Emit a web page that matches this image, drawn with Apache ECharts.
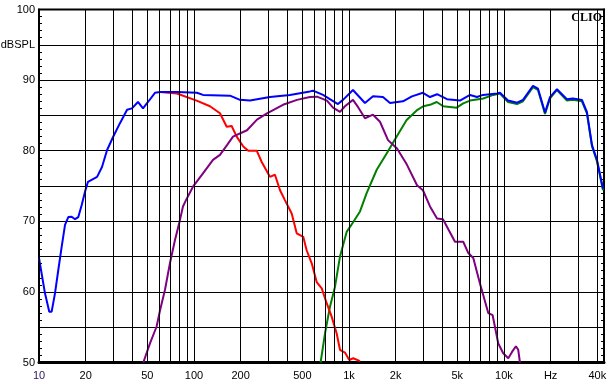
<!DOCTYPE html>
<html>
<head>
<meta charset="utf-8">
<script src="https://cdn.jsdelivr.net/npm/echarts@6/dist/echarts.min.js"></script>
<style>
html,body{margin:0;padding:0;background:#fff;}
#chart{width:613px;height:392px;}
</style>
</head>
<body>
<div id="chart"></div>
<script>
// ---- data (frequency in Hz, level in dB SPL) ----
var blueFreq = [10,10.93,11.65,12.07,12.68,13.32,14.01,14.72,15.45,16.25,17.07,17.93,18.86,19.81,20.7,23.7,25.5,27.5,30,33.3,37,39.8,43.5,46.9,50.5,56,60.4,77.6,104.5,114.3,170.7,198,229.8,309,416,560,586,680,849,915,1061,1268,1429,1656,1840,2230,2548,3000,3333,3700,4290,5200,6040,6700,7330,9020,9420,10620,12140,13270,15390,16570,18400,19820,21980,25480,27860,31840,34280,36980,39810,43550];
var blueDb = [64.8,59.8,57.2,57.2,59.8,63.1,66.4,69.5,70.6,70.65,70.3,70.6,72.3,74.2,75.6,76.3,77.7,80.1,81.9,83.9,85.8,86.0,86.9,86.0,86.9,88.2,88.3,88.3,88.2,87.9,87.8,87.2,87.1,87.6,87.9,88.4,88.5,87.9,86.6,87.2,88.6,86.75,87.7,87.6,86.75,87.0,87.7,88.2,87.6,88.0,87.3,87.1,87.9,87.6,87.9,88.1,88.2,87.1,86.8,87.2,89.2,88.8,85.4,87.6,88.7,87.3,87.4,87.2,85.5,80.8,78.7,74.6];

var redFreq = [60.4,77.6,104,126.8,147.1,162.6,175,188.5,208,224,254,273.5,309,333,359,386,427,460,507,533,575,619,667,718,773,833,875,942,1004,1066,1178];
var redDb = [88.3,88.1,87.1,86.3,85.3,83.4,83.5,82.0,80.6,80.0,80.0,78.4,76.3,76.6,74.4,73.0,71.1,68.3,67.8,65.9,64.05,61.4,60.5,58.4,56.5,54.1,51.8,51.4,50.35,50.6,50.2];

var purpleFreq = [47.1,52,57.4,60.4,65,70,75.4,81.2,84.9,88.8,98.5,114.3,132.6,147.1,163.3,178.5,219.8,254.9,295.8,375,462,560,622,721,789,875,942,1061,1143,1268,1429,1585,1786,2042,2368,2748,3000,3333,3700,4040,4830,5460,5890,6340,7000,7920,8450,9190,9890,10660,11270,11940,12360,12680];
var purpleDb = [50.0,52.7,55.1,57.4,60.3,64.1,67.35,70.2,72.1,73.0,74.9,76.8,78.7,79.4,80.8,82.0,82.9,84.4,85.3,86.5,87.2,87.6,87.65,87.1,86.1,85.5,86.3,87.2,86.2,84.6,85.1,84.1,81.5,80.3,78.0,75.1,74.4,72.1,70.4,70.3,67.1,67.1,65.5,64.8,61.2,57.0,56.7,52.7,51.3,50.6,51.5,52.3,51.8,50.0];

var greenFreq = [656,700,754,812,875,966,1066,1178,1300,1510,1750,2032,2355,2734,3016,3333,3681,4055,4954,5460,6040,7350,8530,9420,10620,12140,13270,15390,16570,18400,19820,21980,25480,27860,31840,34280,36980,39810,43550];
var greenDb = [50.0,54.1,57.9,60.7,65.0,68.5,69.9,71.4,74.0,77.3,79.6,82.0,84.35,85.7,86.3,86.5,86.9,86.3,86.1,86.7,87.1,87.4,87.9,88.1,86.9,86.6,87.0,89.0,88.6,85.2,87.4,88.6,87.1,87.2,87.0,85.3,80.6,78.5,74.4];

var gridFreqs = [10,20,30,40,50,60,70,80,90,100,200,300,400,500,600,700,800,900,1000,2000,3000,4000,5000,6000,7000,8000,9000,10000,20000,30000,40000];
var xTickValues = [10,20,50,100,200,500,1000,2000,5000,10000,20000,40000];
var xTickLabels = ['10','20','50','100','200','500','1k','2k','5k','10k','Hz','40k'];

function pairs(f, d){ var out=[]; for(var i=0;i<f.length;i++) out.push([f[i], d[i]]); return out; }

var FONT = 'Arial, "Liberation Sans", sans-serif';

var gridLineData = gridFreqs.map(function(f){
  var idx = xTickValues.indexOf(f);
  var item = { xAxis: f };
  if (idx >= 0) {
    item.label = { show: true, position: 'start', distance: 8, formatter: xTickLabels[idx], color: idx === 0 ? '#2a1560' : '#000', fontSize: 11, fontFamily: FONT };
  } else {
    item.label = { show: false };
  }
  return item;
});

var chart = echarts.init(document.getElementById('chart'), null, {renderer: 'canvas'});
var yCommon = {
  type: 'value', min: 50, max: 100, interval: 5,
  axisLine: { show: true, lineStyle: { color: '#000', width: 2 } },
  axisTick: { show: true, inside: true, length: 4, lineStyle: { color: '#000' } },
  minorTick: { show: true, splitNumber: 5, length: 3, lineStyle: { color: '#000' } }
};
chart.setOption({
  animation: false,
  backgroundColor: '#fff',
  grid: { left: 39, right: 9, top: 9.5, bottom: 29.5, containLabel: false, outerBoundsMode: 'none',
          show: true, borderColor: '#000', borderWidth: 2, backgroundColor: 'transparent' },
  xAxis: {
    type: 'log', logBase: 10, min: 10, max: 44200,
    axisLine: { show: true, onZero: false, lineStyle: { color: '#000', width: 3 } },
    axisTick: { show: false }, axisLabel: { show: false },
    splitLine: { show: false }, minorTick: { show: false }, minorSplitLine: { show: false }
  },
  yAxis: [
    Object.assign({}, yCommon, {
      position: 'left',
      axisLabel: { show: true, margin: 4, color: '#000', fontSize: 11, fontFamily: FONT,
        formatter: function(v){ if (v % 10 === 0) return String(v); if (v === 95) return 'dBSPL'; return ''; } },
      splitLine: { show: true, lineStyle: { color: '#000', width: 1 } }
    }),
    Object.assign({}, yCommon, {
      position: 'right',
      axisLabel: { show: false },
      splitLine: { show: false }
    })
  ],
  graphic: [{
    type: 'text', right: 11, top: 12, z: 100,
    style: { text: 'CLIO', font: 'bold 12px "Liberation Serif", "DejaVu Serif", serif', fill: '#000' }
  }],
  series: [
    { name: 'grid', type: 'line', data: [], z: 1, silent: true,
      markLine: { silent: true, symbol: ['none','none'], animation: false,
        lineStyle: { color: '#000', width: 1, type: 'solid' },
        emphasis: { disabled: true },
        data: gridLineData } },
    { name: 'tweeter', type: 'line', z: 3, showSymbol: false, data: pairs(greenFreq, greenDb), lineStyle: { color: '#008000', width: 2 }, itemStyle:{color:'#008000'} },
    { name: 'woofer', type: 'line', z: 3, showSymbol: false, data: pairs(redFreq, redDb), lineStyle: { color: '#ff0000', width: 2 }, itemStyle:{color:'#ff0000'} },
    { name: 'mid', type: 'line', z: 3, showSymbol: false, data: pairs(purpleFreq, purpleDb), lineStyle: { color: '#800080', width: 2 }, itemStyle:{color:'#800080'} },
    { name: 'total', type: 'line', z: 4, showSymbol: false, data: pairs(blueFreq, blueDb), lineStyle: { color: '#0000ff', width: 2 }, itemStyle:{color:'#0000ff'} }
  ]
});
</script>
</body>
</html>
